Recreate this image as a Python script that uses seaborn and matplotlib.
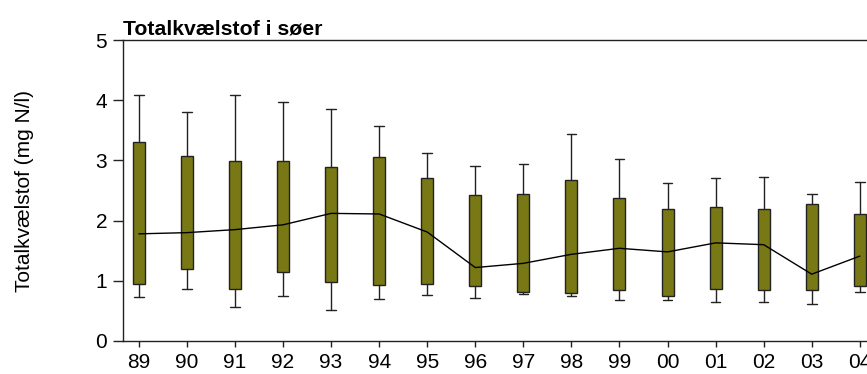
import matplotlib
matplotlib.use("Agg")
import matplotlib.pyplot as plt
import seaborn as sns
import pandas as pd

# values (mg N/l)
years = ["89", "90", "91", "92", "93", "94", "95", "96",
         "97", "98", "99", "00", "01", "02", "03", "04"]
whisker_low = [0.73, 0.86, 0.56, 0.74, 0.52, 0.70, 0.76, 0.72,
               0.78, 0.74, 0.68, 0.68, 0.64, 0.65, 0.61, 0.81]
q1 = [0.94, 1.19, 0.86, 1.14, 0.98, 0.93, 0.94, 0.91,
      0.81, 0.80, 0.84, 0.75, 0.87, 0.84, 0.85, 0.91]
median = [1.78, 1.80, 1.85, 1.93, 2.12, 2.11, 1.81, 1.22,
          1.29, 1.44, 1.54, 1.48, 1.63, 1.60, 1.11, 1.41]
q3 = [3.30, 3.08, 2.99, 2.99, 2.89, 3.06, 2.70, 2.43,
      2.45, 2.67, 2.38, 2.19, 2.22, 2.20, 2.27, 2.11]
whisker_high = [4.09, 3.80, 4.08, 3.97, 3.85, 3.57, 3.13, 2.90,
                2.94, 3.44, 3.02, 2.63, 2.70, 2.72, 2.45, 2.64]

sns.set_style("ticks", {"text.color": "black", "axes.labelcolor": "black",
                        "xtick.color": "black", "ytick.color": "black"})
plt.rcParams['font.family'] = ['Liberation Sans', 'DejaVu Sans']

olive = "#787814"
dark = "#222222"

fig = plt.figure(figsize=(8.67, 3.74), dpi=100)
# axes runs past the right edge, like the cropped original
ax = fig.add_axes([123 / 867, 33 / 374, 769 / 867, 301 / 374])

stats = []
for y, lo, a, m, b, hi in zip(years, whisker_low, q1, median, q3, whisker_high):
    stats.append(dict(label=y, whislo=lo, q1=a, med=m, q3=b, whishi=hi))

ax.bxp(stats, positions=list(range(len(years))), widths=0.25, capwidths=0.2,
       patch_artist=True, showfliers=False,
       boxprops=dict(facecolor=olive, edgecolor=dark, linewidth=1.0),
       whiskerprops=dict(color=dark, linewidth=1.0),
       capprops=dict(color=dark, linewidth=1.0),
       medianprops=dict(visible=False))

df = pd.DataFrame({"pos": range(len(years)), "median": median})
sns.lineplot(data=df, x="pos", y="median", color="black", linewidth=1.0,
             ax=ax, zorder=5)

ax.set_xlim(-0.33, 15.67)
ax.set_ylim(0, 5)
ax.set_yticks([0, 1, 2, 3, 4, 5])
ax.set_xticks(range(len(years)))
ax.set_xticklabels(years)
ax.set_xlabel("")
ax.set_ylabel("Totalkvælstof (mg N/l)", fontsize=15, labelpad=44)
ax.tick_params(axis="x", length=4.5, width=1, color=dark, labelsize=15, pad=4)
ax.tick_params(axis="y", length=7.5, width=1, color=dark, labelsize=15, pad=4)
for s in ax.spines.values():
    s.set_color(dark)
    s.set_linewidth(1.0)

ax.set_title("Totalkvælstof i søer", loc="left", fontsize=15.3,
             fontweight="bold", pad=4)

fig.savefig("out.png", dpi=100)
